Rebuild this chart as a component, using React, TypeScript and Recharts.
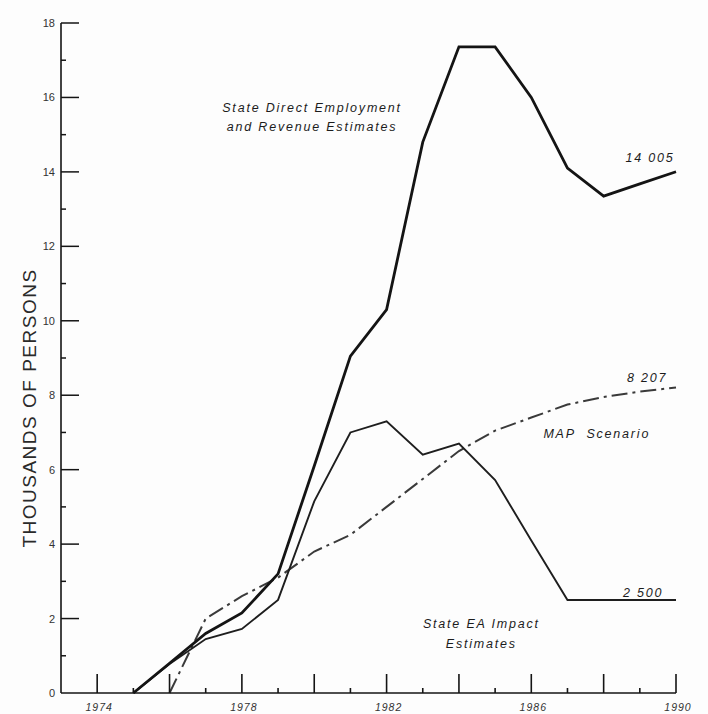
import React from 'react';
import { LineChart, Line, XAxis, YAxis, ReferenceDot } from 'recharts';

// years on the x axis
const years = [1973, 1974, 1975, 1976, 1977, 1978, 1979, 1980, 1981, 1982, 1983, 1984, 1985, 1986, 1987, 1988, 1989, 1990];

// thousands of persons
const stateDirect = [null, null, 0, 0.8, 1.6, 2.15, 3.2, 6.1, 9.05, 10.3, 14.8, 17.36, 17.36, 16.0, 14.1, 13.35, 13.68, 14.005];
const stateEA = [null, null, 0, 0.78, 1.45, 1.72, 2.5, 5.15, 7.0, 7.3, 6.4, 6.7, 5.72, 4.1, 2.5, 2.5, 2.5, 2.5];
const mapScenario = [null, null, null, 0, 2.0, 2.6, 3.1, 3.8, 4.25, 5.0, 5.75, 6.5, 7.05, 7.4, 7.75, 7.95, 8.1, 8.207];

const xTicks = [1974, 1975, 1976, 1977, 1978, 1979, 1980, 1981, 1982, 1983, 1984, 1985, 1986, 1987, 1988, 1989, 1990];
const xLabels = [1974, 1978, 1982, 1986, 1990];
const yTicks = [0, 1, 2, 3, 4, 5, 6, 7, 8, 9, 10, 11, 12, 13, 14, 15, 16, 17, 18];
const yLabels = [0, 2, 4, 6, 8, 10, 12, 14, 16, 18];

const data = years.map((year, i) => ({
  year,
  stateDirect: stateDirect[i],
  stateEA: stateEA[i],
  mapScenario: mapScenario[i],
}));

const INK = '#141414';
const noteStyle = {
  fontFamily: 'Liberation Sans, Arial, sans-serif',
  fontStyle: 'italic' as const,
  fontSize: 12.5,
  letterSpacing: 1.8,
  fill: '#1c1c1c',
};

const XTick = (props: any) => {
  const { x, y, payload } = props;
  const v = payload.value;
  const len = v % 2 === 0 ? 19 : 5;
  return (
    <g>
      <line x1={x} y1={y} x2={x} y2={y - len} stroke={INK} strokeWidth={1.6} />
      {xLabels.includes(v) && (
        <text x={x + 2} y={y + 18} textAnchor="middle" fontSize={10.5} letterSpacing={1} fontStyle="italic"
          fontFamily="Liberation Sans, Arial, sans-serif" fill="#333">
          {v}
        </text>
      )}
    </g>
  );
};

const YTick = (props: any) => {
  const { x, y, payload } = props;
  const v = payload.value;
  const len = v % 2 === 0 ? 18 : 5;
  return (
    <g>
      {v !== 0 && <line x1={x} y1={y} x2={x + len} y2={y} stroke={INK} strokeWidth={1.5} />}
      {yLabels.includes(v) && (
        <text x={x - 6} y={y + 4} textAnchor="end" fontSize={11} fontFamily="Liberation Sans, Arial, sans-serif" fill="#333">
          {v}
        </text>
      )}
    </g>
  );
};

const note = (lines: string[], gap = 19) => (p: any) => (
  <text x={p.cx} y={p.cy} textAnchor="middle" style={noteStyle}>
    {lines.map((t, i) => (
      <tspan key={i} x={p.cx} dy={i === 0 ? 0 : gap}>
        {t}
      </tspan>
    ))}
  </text>
);

const yTitle = (p: any) => {
  const vb = p.viewBox || { x: 0, y: 23 };
  const cx = vb.x + 29;
  const cy = vb.y + 385;
  return (
    <text x={cx} y={cy} transform={`rotate(-90 ${cx} ${cy})`} textAnchor="middle" dominantBaseline="central"
      fontSize={19} letterSpacing={1.5} fontFamily="Liberation Sans, Arial, sans-serif" fill="#2a2a2a">
      THOUSANDS OF PERSONS
    </text>
  );
};

export default function App() {
  return (
    <div style={{ width: 708, height: 714, background: '#fdfdfd' }}>
      <style>{'body{margin:0;}'}</style>
      <LineChart width={708} height={714} data={data} margin={{ top: 23, right: 32, left: 0, bottom: 0 }}>
        <XAxis
          dataKey="year"
          type="number"
          domain={[1973, 1990]}
          ticks={xTicks}
          interval={0}
          height={21}
          tickSize={0}
          tickMargin={0}
          tickLine={false}
          tick={<XTick />}
          axisLine={{ stroke: INK, strokeWidth: 1.6 }}
        />
        <YAxis
          type="number"
          domain={[0, 18]}
          ticks={yTicks}
          interval={0}
          width={61}
          tickSize={0}
          tickMargin={0}
          tickLine={false}
          tick={<YTick />}
          axisLine={{ stroke: INK, strokeWidth: 1.6 }}
          label={yTitle}
        />
        <Line dataKey="mapScenario" stroke="#3a3a3a" strokeWidth={2} strokeDasharray="16 5 3 5" dot={false} activeDot={false} isAnimationActive={false} />
        <Line dataKey="stateEA" stroke="#1e1e1e" strokeWidth={1.9} dot={false} activeDot={false} isAnimationActive={false} />
        <Line dataKey="stateDirect" stroke={INK} strokeWidth={2.8} dot={false} activeDot={false} isAnimationActive={false} />
        <ReferenceDot x={1979.94} y={15.6} r={0} shape={note(['State Direct Employment', 'and Revenue Estimates'])} />
        <ReferenceDot x={1989.28} y={14.26} r={0} shape={note(['14 005'])} />
        <ReferenceDot x={1989.2} y={8.35} r={0} shape={note(['8 207'])} />
        <ReferenceDot x={1987.81} y={6.85} r={0} shape={note(['MAP\u00a0\u00a0Scenario'])} />
        <ReferenceDot x={1989.09} y={2.58} r={0} shape={note(['2 500'])} />
        <ReferenceDot x={1984.62} y={1.745} r={0} shape={note(['State EA Impact', 'Estimates'], 20)} />
      </LineChart>
    </div>
  );
}
